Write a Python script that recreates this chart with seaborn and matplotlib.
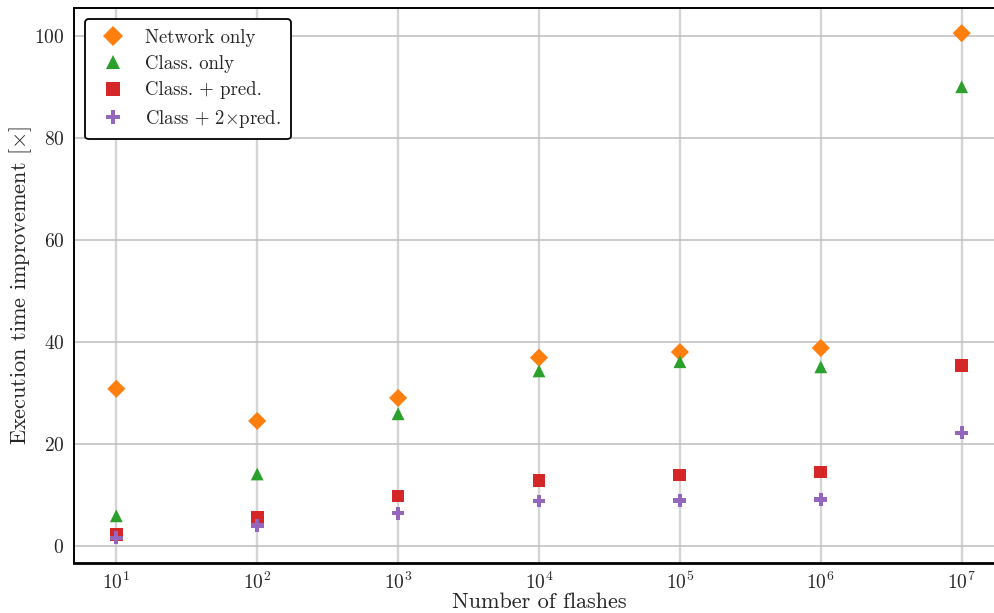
import numpy as np
import pandas as pd
import matplotlib
matplotlib.use("Agg")
import matplotlib.pyplot as plt
import matplotlib.ticker as mticker
import seaborn as sns

flashes = [1e1, 1e2, 1e3, 1e4, 1e5, 1e6, 1e7]
network_only = [30.8, 24.5, 29.0, 36.9, 38.0, 38.8, 100.5]
class_only = [5.9, 14.1, 25.9, 34.3, 36.1, 35.1, 90.0]
class_pred = [2.3, 5.5, 9.8, 12.9, 13.9, 14.5, 35.3]
class_2pred = [1.6, 4.0, 6.4, 8.8, 8.9, 9.1, 22.2]
series_names = ["Network only", "Class. only", "Class. + pred.", r"Class + 2$\times$pred."]
colors = ["#ff7f0e", "#2ca02c", "#d62728", "#9467bd"]
markers = ["D", "^", "s", "P"]

rows = []
for name, vals in zip(series_names, [network_only, class_only, class_pred, class_2pred]):
    for x, y in zip(flashes, vals):
        rows.append({"flashes": x, "improvement": y, "series": name})
df = pd.DataFrame(rows)

sns.set_style("white")
plt.rcParams["font.family"] = ["serif"]
plt.rcParams["font.serif"] = ["cmr10"]
plt.rcParams["mathtext.fontset"] = "cm"
plt.rcParams["axes.formatter.use_mathtext"] = True

fig = plt.figure(figsize=(9.95, 6.13), dpi=100)
ax = fig.add_axes([0.0744, 0.0816, 1.009 - 0.0744, 0.987 - 0.0816])

sns.scatterplot(data=df, x="flashes", y="improvement", hue="series", style="series",
                hue_order=series_names, style_order=series_names,
                palette=dict(zip(series_names, colors)),
                markers=dict(zip(series_names, markers)),
                s=85, linewidth=0, ax=ax, zorder=3)
ax.set_xscale("log")
ax.margins(x=0.05, y=0.05)
ax.set_xticks(flashes)
ax.xaxis.set_minor_formatter(mticker.NullFormatter())

ax.grid(axis="x", which="major", color="#d4d4d4", linewidth=1.7, zorder=0)
ax.grid(axis="y", which="major", color="#bdbdbd", linewidth=1.1, zorder=0)
ax.set_axisbelow(True)

ax.set_yticks([0, 20, 40, 60, 80, 100])
ax.tick_params(axis="both", which="major", direction="out", length=4, width=1, labelsize=14, color="black")
ax.tick_params(axis="x", which="minor", direction="out", length=2, width=0.8, color="black")
ax.tick_params(axis="x", which="major", pad=2)
ax.tick_params(axis="y", which="major", pad=3)

for side in ["left", "top"]:
    ax.spines[side].set_color("black")
    ax.spines[side].set_linewidth(1.4)
ax.spines["bottom"].set_color("black")
ax.spines["bottom"].set_linewidth(2.0)
ax.spines["right"].set_visible(False)

ax.set_xlabel("Number of flashes", fontsize=16, labelpad=0)
ax.set_ylabel(r"Execution time improvement [$\times$]", fontsize=16, labelpad=0)

leg = ax.legend(loc="upper left", fontsize=13.5, frameon=True, fancybox=True,
                framealpha=1, edgecolor="black", borderpad=0.5, handletextpad=0.7,
                labelspacing=0.45, borderaxespad=0.6, markerscale=1.15)
leg.get_frame().set_linewidth(1.3)
leg.set_title(None)

fig.savefig("out.png", dpi=100)
